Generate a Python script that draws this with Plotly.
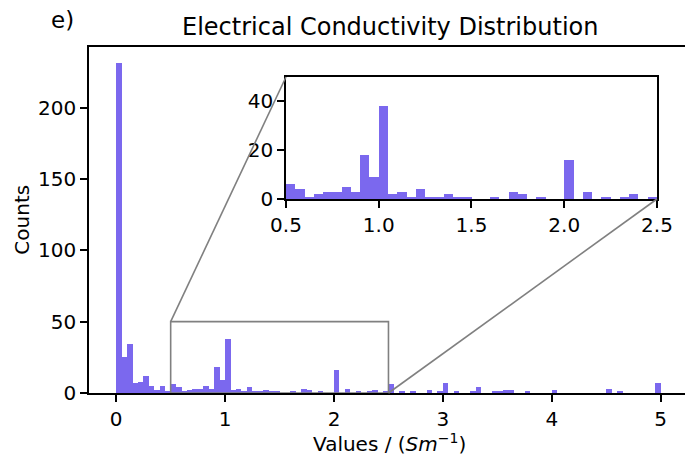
import plotly.graph_objects as go

# Histogram of electrical conductivity values, 0.05 S/m wide bins from 0 to 5
bin_width = 0.05
bin_starts = [round(i * bin_width, 2) for i in range(100)]
counts = [
    231, 25, 34, 7, 8, 12, 5, 2, 5, 1,      # 0.00 - 0.45
    6, 4, 1, 2, 3, 3, 5, 3, 18, 9,          # 0.50 - 0.95
    38, 2, 3, 1, 4, 1, 1, 2, 1, 1,          # 1.00 - 1.45
    0, 0, 1, 0, 3, 2, 0, 1, 0, 0,           # 1.50 - 1.95
    16, 0, 3, 0, 1, 0, 1, 2, 0, 1,          # 2.00 - 2.45
    6, 0, 1, 0, 1, 0, 0, 2, 0, 1,           # 2.50 - 2.95
    7, 0, 1, 0, 0, 1, 4, 0, 0, 1,           # 3.00 - 3.45
    1, 2, 2, 0, 0, 1, 0, 0, 0, 0,           # 3.50 - 3.95
    2, 0, 0, 0, 0, 0, 0, 0, 0, 0,           # 4.00 - 4.45
    3, 0, 1, 0, 0, 0, 0, 0, 0, 7,           # 4.50 - 4.95
]
bin_centers = [s + bin_width / 2 for s in bin_starts]

main_xticks = [0, 1, 2, 3, 4, 5]
main_yticks = [0, 50, 100, 150, 200]
inset_xticks = [0.5, 1.0, 1.5, 2.0, 2.5]
inset_yticks = [0, 20, 40]

# zoom window shown in the inset
zoom_x = [0.5, 2.5]
zoom_y = [0, 50]

main_xrange = [-0.25, 5.223]
main_yrange = [0, 242.5]
inset_dom_x = [0.3305, 0.953]
inset_dom_y = [0.5607, 0.9133]

BAR = "mediumslateblue"
FONT = "DejaVu Sans"
GREY = "#808080"

fig = go.Figure()
fig.add_trace(go.Bar(x=bin_centers, y=counts, width=bin_width,
                     marker=dict(color=BAR, line=dict(width=0)),
                     xaxis="x", yaxis="y", showlegend=False, hoverinfo="skip"))
fig.add_trace(go.Bar(x=bin_centers, y=counts, width=bin_width,
                     marker=dict(color=BAR, line=dict(width=0)),
                     xaxis="x2", yaxis="y2", showlegend=False, hoverinfo="skip"))

axis_common = dict(showgrid=False, zeroline=False, showline=True,
                   linecolor="black", linewidth=1.6, ticks="outside",
                   ticklen=7, tickwidth=1.6, tickcolor="black",
                   automargin=False,
                   tickfont=dict(family=FONT, size=20, color="black"))

fig.update_layout(
    width=685, height=455,
    margin=dict(l=89, r=0, t=47, b=62, autoexpand=False),
    paper_bgcolor="white", plot_bgcolor="white",
    bargap=0,
    font=dict(family=FONT, color="black"),
    xaxis=dict(**axis_common, domain=[0, 1], range=main_xrange,
               tickvals=main_xticks, mirror=True),
    yaxis=dict(**axis_common, domain=[0, 1], range=main_yrange,
               tickvals=main_yticks),
    xaxis2=dict(**axis_common, domain=inset_dom_x, range=[zoom_x[0], zoom_x[1]],
                tickvals=inset_xticks, tickformat=".1f", mirror=True,
                anchor="y2"),
    yaxis2=dict(**axis_common, domain=inset_dom_y, range=[zoom_y[0], zoom_y[1]],
                tickvals=inset_yticks, mirror=True, anchor="x2"),
)


def main_to_paper(x, y):
    px = (x - main_xrange[0]) / (main_xrange[1] - main_xrange[0])
    py = (y - main_yrange[0]) / (main_yrange[1] - main_yrange[0])
    return px, py


# outline of the zoomed region on the main axes
fig.add_shape(type="rect", xref="x", yref="y",
              x0=zoom_x[0], x1=zoom_x[1], y0=zoom_y[0], y1=zoom_y[1],
              line=dict(color=GREY, width=1.6), layer="above")

# connectors from the zoom box to the inset corners
p1 = main_to_paper(zoom_x[0], zoom_y[1])
p2 = main_to_paper(zoom_x[1], zoom_y[0])
fig.add_shape(type="line", xref="paper", yref="paper",
              x0=p1[0], y0=p1[1], x1=inset_dom_x[0], y1=inset_dom_y[1],
              line=dict(color=GREY, width=1.6), layer="above")
fig.add_shape(type="line", xref="paper", yref="paper",
              x0=p2[0], y0=p2[1], x1=inset_dom_x[1], y1=inset_dom_y[0],
              line=dict(color=GREY, width=1.6), layer="above")

# titles as paper-anchored text
fig.add_annotation(text="Electrical Conductivity Distribution",
                   xref="paper", yref="paper", x=0.505, y=1.058,
                   xanchor="center", yanchor="middle", showarrow=False,
                   font=dict(family=FONT, size=24, color="black"))
fig.add_annotation(text="e)", xref="paper", yref="paper", x=-0.045, y=1.078,
                   xanchor="center", yanchor="middle", showarrow=False,
                   font=dict(family=FONT, size=23, color="black"))
fig.add_annotation(text="Values / (<i>Sm</i><sup>−1</sup>)",
                   xref="paper", yref="paper", x=0.505, y=-0.145,
                   xanchor="center", yanchor="middle", showarrow=False,
                   font=dict(family=FONT, size=20, color="black"))
fig.add_annotation(text="Counts", textangle=-90,
                   xref="paper", yref="paper", x=-0.113, y=0.5,
                   xanchor="center", yanchor="middle", showarrow=False,
                   font=dict(family=FONT, size=20, color="black"))

fig.write_html("out.html")
